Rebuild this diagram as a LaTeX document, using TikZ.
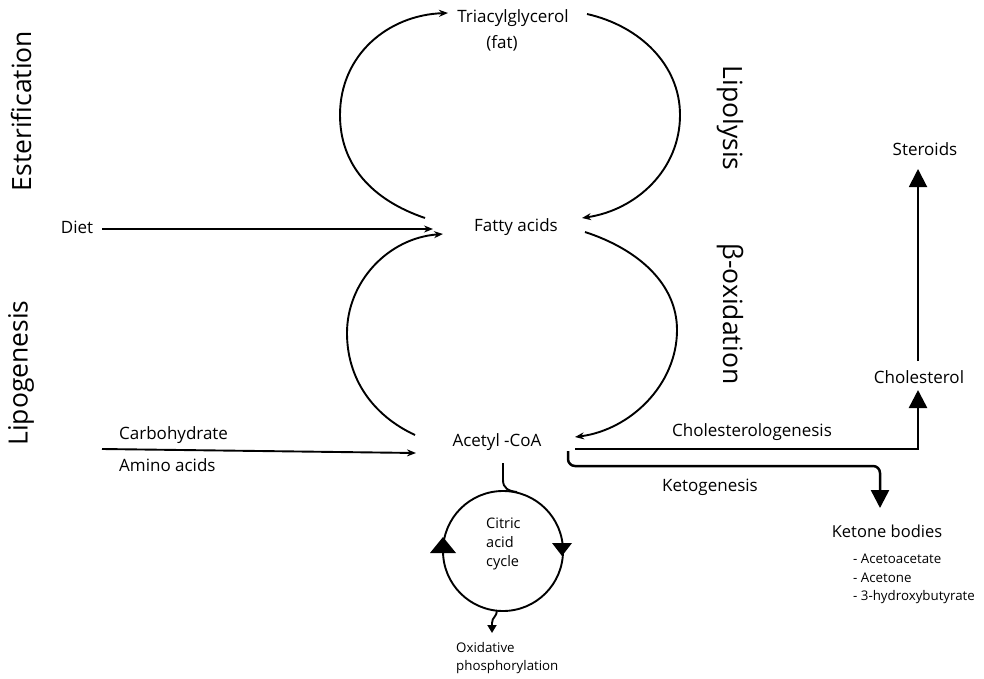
\documentclass[tikz,border=0pt]{standalone}
\usepackage{fontspec}
\setmainfont{Open Sans}
\usetikzlibrary{arrows.meta}
\begin{document}
\begin{tikzpicture}[x=1pt,y=-1pt,
  lbl/.style={inner sep=0pt, font=\fontsize{17}{20}\selectfont},
  midl/.style={inner sep=0pt, font=\fontsize{16.5}{20}\selectfont},
  big/.style={inner sep=0pt, font=\fontsize{26.5}{30}\selectfont},
  sml/.style={inner sep=0pt, font=\fontsize{13.3}{18.5}\selectfont},
  loopln/.style={line width=1.9pt, -{Stealth[length=9pt,width=7pt]}},
  ln/.style={line width=1.9pt},
  heavy/.style={line width=2.5pt},
  bigtip/.style={-{Triangle[length=18pt,width=18pt]}},
]
\useasboundingbox (0,0) rectangle (984,679);

% main nodes
\node[lbl] (tag) at (513,18) {Triacylglycerol};
\node[lbl] (fat) at (502,43) {(fat)};
\node[lbl] (fa) at (516,227) {Fatty acids};
\node[lbl] (acoa) at (497,442) {Acetyl -CoA};
\node[lbl] (diet) at (77,227) {Diet};
\node[lbl, anchor=west] (carb) at (119,435) {Carbohydrate};
\node[lbl, anchor=west] (amino) at (119,465) {Amino acids};
\node[lbl] (chl) at (919,377) {Cholesterol};
\node[lbl] (ster) at (925,149) {Steroids};
\node[lbl] (cholgen) at (752,432) {Cholesterologenesis};
\node[lbl] (ketgen) at (710,487) {Ketogenesis};
\node[midl] (ket) at (887,531) {Ketone bodies};
\node[sml, anchor=west] (k1) at (853,559) {- Acetoacetate};
\node[sml, anchor=west] (k2) at (853,578) {- Acetone};
\node[sml, anchor=west] (k3) at (853,597) {- 3-hydroxybutyrate};
\node[lbl, anchor=north west, align=left, font=\fontsize{14.5}{19}\selectfont] (cac) at (486,518) {Citric\\acid\\cycle};
\node[sml, anchor=north west, align=left] (oxp) at (456,642) {Oxidative\\phosphorylation};

% vertical labels
\node[big, rotate=90] (ester) at (21,111) {Esterification};
\node[big, rotate=90] (lipog) at (21,373) {Lipogenesis};
\node[big, rotate=-90] (lipol) at (730,118) {Lipolysis};
\node[big, rotate=-90] (boxi) at (730,314) {β-oxidation};

% loop end points
\coordinate (ul0) at (425,218);
\coordinate (ul1) at (448,13);
\coordinate (ur0) at (587,14);
\coordinate (ur1) at (582,218);
\coordinate (ll0) at (415,435);
\coordinate (ll1) at (443,234);
\coordinate (lr0) at (585,232);
\coordinate (lr1) at (575,437);

\draw[loopln] (ul0) .. controls (372,200) and (340,165) .. (340,115)
                    .. controls (340,55) and (388,15) .. (ul1);
\draw[loopln] (ur0) .. controls (640,26) and (680,65) .. (680,115)
                    .. controls (680,170) and (636,210) .. (ur1);
\draw[loopln] (ll0) .. controls (372,415) and (347,378) .. (347,333)
                    .. controls (347,282) and (388,238) .. (ll1);
\draw[loopln] (lr0) .. controls (640,250) and (677,285) .. (677,330)
                    .. controls (677,385) and (630,430) .. (lr1);

% inputs
\coordinate (d0) at (102,229);
\coordinate (d1) at (433,229);
\draw[loopln] (d0) -- (d1);
\coordinate (c0) at (102,449);
\coordinate (c1) at (416,453);
\draw[loopln] (c0) -- (c1);

% cholesterol branch
\coordinate (h0) at (575,449);
\coordinate (h1) at (918,449);
\coordinate (h2) at (918,390);
\draw[heavy, bigtip] (h0) -- (h1) -- (h2);
\coordinate (s0) at (918,361);
\coordinate (s1) at (918,169);
\draw[ln, bigtip] (s0) -- (s1);

% ketogenesis branch
\coordinate (k0) at (568,451);
\coordinate (k1c) at (568,466);
\coordinate (k2c) at (880,466);
\coordinate (k3c) at (880,508);
\draw[heavy, rounded corners=7pt, bigtip] (k0) -- (k1c) -- (k2c) -- (k3c);

% citric acid cycle
\coordinate (cc) at (503,551);
\draw[ln] (cc) circle[radius=60pt];
\fill (430,553) -- (456,553) -- (443,537) -- cycle;
\fill (552,543) -- (572,543) -- (562,556) -- cycle;
\coordinate (a0) at (503,463);
\coordinate (a1) at (517,492);
\draw[ln] (a0) -- (503,480) .. controls (503,488) and (508,491) .. (a1);
\coordinate (o0) at (497,610);
\coordinate (o1) at (492,633);
\draw[ln, -{Triangle[length=8pt,width=9pt]}] (o0) .. controls (497,617) and (492,617) .. (492,623) -- (o1);
\end{tikzpicture}
\end{document}
